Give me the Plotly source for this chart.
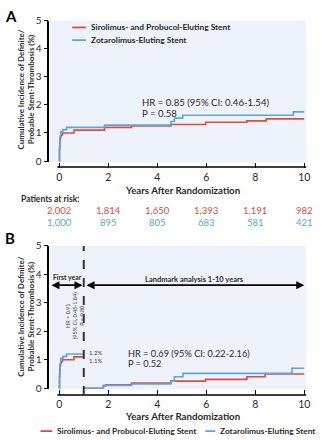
import plotly.graph_objects as go

# ---- data ----
years_ticks = [0, 2, 4, 6, 8, 10]
risk_spes = ["2,002", "1,814", "1,650", "1,393", "1,191", "982"]
risk_zes = ["1,000", "895", "805", "683", "581", "421"]

# Panel A: full 10-year cumulative incidence (%)
spes_t = [0, 0.01, 0.02, 0.03, 0.05, 0.08, 0.13, 0.6, 1.85, 2.95, 4.56, 5.98, 7.66, 8.45, 10]
spes_y = [0, 0.4, 0.65, 0.8, 0.88, 0.93, 1.0, 1.1, 1.2, 1.25, 1.3, 1.38, 1.43, 1.5, 1.5]
zes_t = [0, 0.01, 0.03, 0.06, 0.15, 0.3, 1.85, 4.56, 4.7, 5.04, 9.55, 10]
zes_y = [0, 0.5, 0.85, 1.05, 1.12, 1.2, 1.28, 1.41, 1.53, 1.63, 1.75, 1.75]

# Panel B: first year
spes1_t = [0, 0.01, 0.02, 0.03, 0.05, 0.08, 0.13, 0.6, 1.0]
spes1_y = [0, 0.4, 0.65, 0.8, 0.88, 0.93, 1.0, 1.1, 1.1]
zes1_t = [0, 0.01, 0.03, 0.06, 0.15, 0.3, 1.0]
zes1_y = [0, 0.5, 0.85, 1.05, 1.12, 1.2, 1.2]

# Panel B: landmark 1-10 years
spes2_t = [1.0, 1.8, 1.9, 2.95, 4.56, 5.97, 7.66, 8.4, 10]
spes2_y = [0, 0.08, 0.12, 0.18, 0.25, 0.31, 0.4, 0.5, 0.5]
zes2_t = [1.0, 1.8, 2.95, 4.55, 4.7, 5.05, 9.5, 10]
zes2_y = [0, 0.1, 0.15, 0.25, 0.4, 0.52, 0.7, 0.7]

RED = "#e4493f"
BLUE = "#5ea6d6"
BG = "#eef2fa"
TXT = "#2b2b2b"
FONT = "Lato"

W, H = 325, 440


def px(x):
    return x / W


def py(y):
    return 1 - y / H


fig = go.Figure()

for xa, ya, t, y, c in [
    ("x", "y", spes_t, spes_y, RED),
    ("x", "y", zes_t, zes_y, BLUE),
    ("x2", "y2", spes1_t, spes1_y, RED),
    ("x2", "y2", zes1_t, zes1_y, BLUE),
    ("x2", "y2", spes2_t, spes2_y, RED),
    ("x2", "y2", zes2_t, zes2_y, BLUE),
]:
    fig.add_trace(go.Scatter(x=t, y=y, mode="lines", line=dict(color=c, width=1.6, shape="hv"),
                             xaxis=xa, yaxis=ya, showlegend=False, hoverinfo="skip"))

xr = [-0.403, 10.08]
yr = [-0.035, 5.0]
xcommon = dict(range=xr, domain=[px(50), px(310)], tickvals=years_ticks, showgrid=False,
               zeroline=False, showline=False, ticks="outside", ticklen=5, tickwidth=1.3,
               tickcolor="black", tickfont=dict(size=10.5, color=TXT, family=FONT))
ycommon = dict(range=yr, tickvals=[0, 1, 2, 3, 4, 5], showgrid=False, zeroline=False,
               showline=True, linecolor="black", linewidth=1.5, ticks="outside", ticklen=4,
               tickwidth=1.3, tickcolor="black", tickfont=dict(size=10, color=TXT, family=FONT))

fig.update_layout(
    width=W, height=H, margin=dict(l=0, r=0, t=0, b=0),
    paper_bgcolor="white", plot_bgcolor=BG,
    font=dict(family=FONT, color=TXT),
    xaxis=dict(anchor="y", **xcommon),
    yaxis=dict(anchor="x", domain=[py(159), py(14)], **ycommon),
    xaxis2=dict(anchor="y2", **xcommon),
    yaxis2=dict(anchor="x2", domain=[py(392), py(245)], **ycommon),
)

shapes = []
# bottom axis lines (offset below the plot area)
for yy in (164, 398):
    shapes.append(dict(type="line", xref="paper", yref="paper", x0=px(58), x1=px(310),
                       y0=py(yy), y1=py(yy), line=dict(color="black", width=1.5)))
# landmark divider at 1 year
shapes.append(dict(type="line", xref="x2", yref="paper", x0=1, x1=1, y0=py(398), y1=py(245),
                   line=dict(color="#333333", width=2, dash="dash")))
# legend swatches
for x0, x1, yy, c in [(73, 87, 21, RED), (73, 87, 34, BLUE), (41, 53, 435, RED), (208, 218, 435, BLUE)]:
    shapes.append(dict(type="line", xref="paper", yref="paper", x0=px(x0), x1=px(x1),
                       y0=py(yy), y1=py(yy), line=dict(color=c, width=1.8)))
fig.update_layout(shapes=shapes)

ann = []


def txt(x, y, s, size=10, color=TXT, xanchor="left", weight="normal", angle=0, xref="paper", yref="paper"):
    ann.append(dict(x=x, y=y, xref=xref, yref=yref, text=s, showarrow=False, xanchor=xanchor,
                    yanchor="middle", textangle=angle,
                    font=dict(size=size, color=color, family=FONT, weight=weight)))


# panel letters
txt(px(3), py(9), "A", size=15, weight="bold", color="black")
txt(px(3), py(237), "B", size=15, weight="bold", color="black")

# legends
txt(px(90), py(21), "Sirolimus- and Probucol-Eluting Stent", size=8.4, weight="bold")
txt(px(90), py(34), "Zotarolimus-Eluting Stent", size=8.4, weight="bold")
txt(px(56), py(435), "Sirolimus- and Probucol-Eluting Stent", size=8.4, weight="bold")
txt(px(221), py(435), "Zotarolimus-Eluting Stent", size=8.4, weight="bold")

# y-axis titles
ytitle = "Cumulative Incidence of Definite/<br>Probable Stent-Thrombosis (%)"
txt(px(26), py(85), ytitle, size=8, weight="bold", xanchor="center", angle=-90)
txt(px(26), py(318), ytitle, size=8, weight="bold", xanchor="center", angle=-90)

# x-axis titles
txt(px(185), py(188), "Years After Randomization", size=9.7, weight="bold", xanchor="center")
txt(px(185), py(419), "Years After Randomization", size=9.7, weight="bold", xanchor="center")

# hazard ratios
txt(px(142), py(98), "HR = 0.85 (95% CI: 0.46-1.54)", size=9.6)
txt(px(142), py(109), "P = 0.58", size=9.6)
txt(px(128), py(355), "HR = 0.69 (95% CI: 0.22-2.16)", size=9.2)
txt(px(128), py(366), "P = 0.52", size=9.2)
txt(px(76), py(317), "HR = 0.91<br>(95% CI, 0.45-1.84)<br>P = 0.80", size=5.5,
    xanchor="center", angle=-90, color="#444444")

# patients at risk
txt(px(19), py(197), "Patients at risk:", size=8.5, weight="bold")
for i, yv in enumerate(years_ticks):
    txt(yv, py(209), risk_spes[i], size=9.5, color=RED, xanchor="center", xref="x")
    txt(yv, py(221), risk_zes[i], size=9.5, color=BLUE, xanchor="center", xref="x")

# end-of-curve values
txt(1.15, zes1_y[-1] + 0.06, f"{zes1_y[-1]:.1f}%", size=6, xref="x2", yref="y2", color="#444444")
txt(1.15, spes1_y[-1] - 0.14, f"{spes1_y[-1]:.1f}%", size=6, xref="x2", yref="y2", color="#444444")
txt(10.12, zes2_y[-1] + 0.06, f"{zes2_y[-1]:.1f}%", size=6, xref="x2", yref="y2", color="#444444")
txt(10.12, spes2_y[-1] - 0.08, f"{spes2_y[-1]:.1f}%", size=6, xref="x2", yref="y2", color="#444444")

# period labels and arrows
txt(px(68), py(277), "First year", size=6.8, xanchor="center", weight="bold")
txt(px(197), py(279), "Landmark analysis 1-10 years", size=7.5, xanchor="center", weight="bold")
for a, b in [(-0.38, 0.95), (1.05, 10.0)]:
    ann.append(dict(x=b, y=3.62, ax=a, ay=3.62, xref="x2", yref="y2", axref="x2", ayref="y2",
                    text="", showarrow=True, arrowside="end+start", arrowhead=2, arrowsize=1,
                    arrowwidth=1.6, arrowcolor="black"))

fig.update_layout(annotations=ann)
fig.write_html("out.html")
